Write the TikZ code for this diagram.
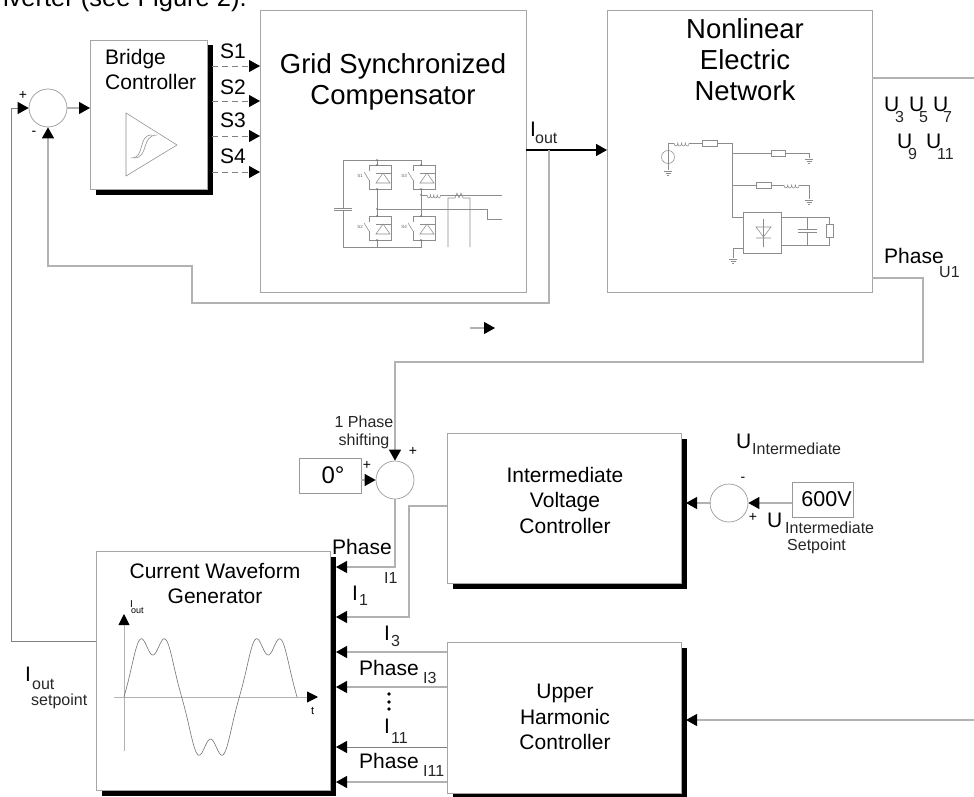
\documentclass[tikz,border=0pt]{standalone}
\usepackage{fontspec}
\setmainfont{Liberation Sans}
\usetikzlibrary{arrows.meta,shadows}
\tikzset{coilDecorate/.pic={
  \draw[circuitDecorate] (0,0) .. controls (0,4) and (4,4) .. (4,0)
    .. controls (4,4) and (8,4) .. (8,0)
    .. controls (8,4) and (12,4) .. (12,0)
    .. controls (12,4) and (16,4) .. (16,0);
}}
\tikzset{groundDecorate/.pic={
  \draw[circuitDecorate] (-4,0) -- (4,0) (-2.5,2) -- (2.5,2) (-1,4) -- (1,4);
}}
\begin{document}
\begin{tikzpicture}
[x=1pt,y=-1pt,
  boxDecorate/.style={shape=rectangle,anchor=north west,inner sep=0pt,draw=black!35,line width=1pt,fill=white},
  shadowDecorate/.style={boxDecorate,general shadow={fill=black,shadow xshift=5pt,shadow yshift=-5pt}},
  sumDecorate/.style={shape=circle,minimum size=38pt,inner sep=0pt,draw=black!40,line width=.7pt},
  valueDecorate/.style={shape=rectangle,inner sep=0pt,draw=black!40,line width=.8pt},
  wireDecorate/.style={draw=black!30,line width=1.2pt},
  thinDecorate/.style={draw=black!50,line width=.8pt},
  arrowDecorate/.style={-{Triangle[length=11pt,width=12pt,color=black,fill=black]}},
  circuitDecorate/.style={draw=black!45,line width=.55pt},
  bigText/.style={anchor=base west,inner sep=0pt,font=\fontsize{21}{25}\selectfont},
  subText/.style={anchor=base west,inner sep=0pt,font=\fontsize{16}{19}\selectfont,text=black!85},
  titleText/.style={align=center,inner sep=0pt,font=\fontsize{21}{25}\selectfont},
  headText/.style={align=center,inner sep=0pt,font=\fontsize{27.5}{31}\selectfont}]
\path[use as bounding box,clip] (0,0) rectangle (974,797);
\node[anchor=base east,inner sep=0pt,font=\fontsize{25.5}{30}\selectfont] (caption) at (247,7) {inverter (see Figure 2).};
%% blocks
\foreach \nodename/\x/\y/\w/\h in {
  bridge/90/40/117/149,
  voltage/447/433/234/150,
  waveform/96/551/234/239,
  harmonic/447/642/234/151}
{
  \node[shadowDecorate,minimum width=\w pt,minimum height=\h pt] (\nodename) at (\x,\y) {};
}
\foreach \nodename/\x/\y/\w/\h in {
  compensator/260/10/266/282,
  network/607/10/265/282}
{
  \node[boxDecorate,minimum width=\w pt,minimum height=\h pt] (\nodename) at (\x,\y) {};
}
%% sums and set values
\foreach \nodename/\x/\y in {sumCurrent/48/108, sumPhase/395/480, sumVoltage/729/503}
{
  \node[sumDecorate] (\nodename) at (\x,\y) {};
}
\node[valueDecorate,minimum width=62pt,minimum height=35pt,font=\fontsize{24}{28}\selectfont] (zeroDegree) at (330,475.5) {\hspace*{6pt}0°};
\node[valueDecorate,minimum width=61pt,minimum height=35pt,font=\fontsize{21.5}{25}\selectfont] (setVoltage) at (822.5,499.5) {\hspace*{8pt}600V};
%% free ends and ports
\foreach \nodename/\x/\y in {
  s1a/212/66, s1b/260/66, s2a/212/101, s2b/260/101, s3a/212/136, s3b/260/136, s4a/212/172, s4b/260/172,
  outA/526/150, outB/607/150, outC/549/150, fbA/549/303, fbB/192/303, fbC/192/266, fbD/48/266,
  spA/96/641, spB/11/641, spC/11/108,
  topA/872/78, topB/974/78,
  upA/872/278, upB/923/278, upC/923/362, upD/395/362,
  strayA/470/328, strayB/495/328,
  ph1A/395/567, ph1B/336/567, i1A/447/506, i1B/409/506, i1C/409/617, i1D/336/617,
  i3A/447/652, i3B/336/652, ph3A/447/687, ph3B/336/687,
  i11A/447/747, i11B/336/747, ph11A/447/782, ph11B/336/782,
  hrmA/974/720, hrmB/686/720, sumOut/711/503, setIn/686/503, zeroOut/361/480, setOut/792/503}
{
  \coordinate (\nodename) at (\x,\y);
}
%% connectors
\path
\foreach \startnode/\endnode in {s1a/s1b, s2a/s2b, s3a/s3b, s4a/s4b}
{
  (\startnode) edge[thinDecorate,arrowDecorate,dash pattern=on 6pt off 4pt] (\endnode)
}
\foreach \startnode/\endnode in {
  sumCurrent.east/bridge.west|-sumCurrent.east, zeroOut/sumPhase.west, setOut/sumVoltage.east,
  sumOut/setIn, strayA/strayB, i3A/i3B, ph3A/ph3B, ph11A/ph11B, hrmA/hrmB}
{
  (\startnode) edge[wireDecorate,arrowDecorate] (\endnode)
}
\foreach \startnode/\endnode in {i11A/i11B}
{
  (\startnode) edge[thinDecorate,arrowDecorate] (\endnode)
};
\draw[draw=black,line width=1.6pt,arrowDecorate] (outA) -- (outB);
\draw[wireDecorate,arrowDecorate] (outC) -- (fbA) -- (fbB) -- (fbC) -- (fbD) -- (sumCurrent.south);
\draw[thinDecorate,arrowDecorate] (spA) -- (spB) -- (spC) -- (sumCurrent.west);
\draw[wireDecorate] (topA) -- (topB);
\draw[wireDecorate,arrowDecorate] (upA) -- (upB) -- (upC) -- (upD) -- (sumPhase.north);
\draw[wireDecorate,arrowDecorate] (sumPhase.south) -- (ph1A) -- (ph1B);
\draw[wireDecorate,arrowDecorate] (i1A) -- (i1B) -- (i1C) -- (i1D);
%% amplifier in the bridge controller
\draw[circuitDecorate] (126,113) -- (177,145) -- (126,176) -- cycle;
\draw[circuitDecorate] (131,158) .. controls (146,158) and (137,135) .. (152,135);
\draw[circuitDecorate] (134,158) .. controls (149,158) and (141,135) .. (157,135);
%% inverter bridge
\draw[circuitDecorate] (377,160) -- (343,160) -- (343,208) (343,210) -- (343,247) -- (421,247) -- (421,160) -- (377,160) -- (377,247);
\draw[circuitDecorate] (334,208) -- (352,208) (334,210) -- (352,210);
\foreach \nodename/\x/\y in {S1/377/165, S3/421/165, S2/377/216, S4/421/216}
{
  \draw[circuitDecorate,fill=white] (\x-8,\y) rectangle (\x+14,\y+24);
  \draw[circuitDecorate,fill=white] (\x+6,\y+8) -- (\x-1,\y+18) -- (\x+13,\y+18) -- cycle;
  \draw[circuitDecorate] (\x-1,\y+8) -- (\x+14,\y+8);
  \draw[circuitDecorate,fill=white,draw=white] (\x-10,\y+6) rectangle (\x-7,\y+14);
  \draw[circuitDecorate] (\x-8,\y+15) -- (\x-13,\y+7);
  \node[inner sep=0pt,text=black!60,font=\fontsize{4.5}{5}\selectfont] (label\nodename) at (\x-17,\y+11) {\nodename};
}
\foreach \x/\y in {377/160, 377/165, 377/189, 377/209, 377/216, 377/240, 421/165, 421/189, 421/195, 421/216, 421/240}
{
  \fill[black!60] (\x,\y) circle (.8);
}
\draw[circuitDecorate] (377,209) -- (487,209) -- (487,219) -- (502,219);
\draw[circuitDecorate] (421,195) -- (427,195) (441,195) -- (502,195);
\pic at (427,195) [xscale=.85] {coilDecorate};
\draw[circuitDecorate] (448,247) -- (448,198) -- (455,198) -- (457,193) -- (459,198) -- (461,193) -- (463,198) -- (470,198) -- (470,247);
%% network
\draw[circuitDecorate] (668,151) -- (668,143) -- (674,143) (689,143) -- (702,143) (717,143) -- (732,143) -- (732,217) -- (743,217);
\draw[circuitDecorate] (668,157) circle (6.5);
\draw[circuitDecorate] (668,151) -- (668,170);
\pic at (668,171) {groundDecorate};
\pic at (674,143) [xscale=.95] {coilDecorate};
\foreach \x/\y/\w/\h in {702/140/15/6, 771/150/14/6, 756/182/15/6, 826/224/7/13}
{
  \draw[circuitDecorate,fill=white] (\x,\y) rectangle (\x+\w,\y+\h);
}
\draw[circuitDecorate] (732,153) -- (771,153) (785,153) -- (809,153) -- (809,158);
\pic at (809,159) {groundDecorate};
\draw[circuitDecorate] (732,185) -- (756,185) (771,185) -- (784,185) (799,185) -- (809,185) -- (809,199);
\pic at (809,200) {groundDecorate};
\pic at (784,185) [xscale=.95] {coilDecorate};
\draw[circuitDecorate,line width=.8pt] (743,212) rectangle (781,253);
\draw[circuitDecorate] (756,227) -- (771,227) -- (763.5,237) -- cycle (763.5,219) -- (763.5,247) (756,238) -- (771,238);
\draw[circuitDecorate] (781,217) -- (829,217) -- (829,224) (829,237) -- (829,245) -- (781,245);
\draw[circuitDecorate] (807,217) -- (807,229) (807,232) -- (807,245) (798,229) -- (817,229) (798,232) -- (817,232);
\draw[circuitDecorate] (743,248) -- (733,248) -- (733,258);
\pic at (733,259) {groundDecorate};
%% waveform sketch
\draw[wireDecorate,line width=.9pt,-{Triangle[length=11pt,width=11pt,color=black,fill=black]}] (124,751) -- (124,614);
\draw[wireDecorate,line width=.9pt,-{Triangle[length=11pt,width=11pt,color=black,fill=black]}] (114,697) -- (318,697);
\draw[draw=black!55,line width=.6pt] plot[domain=0:540,samples=181] ({124+.3204*\x},{697-60*(sin(\x)+.2*sin(3*\x)-.1*sin(5*\x))});
\node[anchor=base west,inner sep=0pt,font=\fontsize{10}{12}\selectfont] (axisI) at (130,607) {I};
\node[anchor=base west,inner sep=0pt,font=\fontsize{9}{11}\selectfont] (axisOut) at (131,613) {out};
\node[anchor=base west,inner sep=0pt,font=\fontsize{11}{13}\selectfont] (axisT) at (311,714) {t};
%% block titles
\node[titleText,align=left,anchor=west] (bridgeTitle) at (105,69) {Bridge\\Controller};
\node[headText] (compensatorTitle) at (393,82) {Grid Synchronized\\Compensator};
\node[headText] (networkTitle) at (745,60) {Nonlinear\\Electric\\Network};
\node[titleText,font=\fontsize{21}{25.5}\selectfont] (voltageTitle) at (565,500) {Intermediate\\Voltage\\Controller};
\node[titleText,font=\fontsize{21}{25.5}\selectfont] (harmonicTitle) at (565,717) {Upper\\Harmonic\\Controller};
\node[titleText] (waveformTitle) at (215,583) {Current Waveform\\Generator};
\node[align=center,inner sep=0pt,font=\fontsize{16}{18}\selectfont,text=black!85] (shiftText) at (364,432) {1 Phase\\shifting};
%% labels
\foreach \nodename/\x/\y/\labeltext in {
  textS1/220/59/S1, textS2/220/95/S2, textS3/220/128/S3, textS4/220/163/S4,
  textIout/530/137/I, textU3/884/112/U, textU5/909/112/U, textU7/933/112/U, textU9/897/149/U, textU11/926/149/U,
  textPhaseU/884/263/Phase, textUin/736/448/U, textUset/767/527/U,
  textPhase1/332/554/Phase, textI1/352/600/I, textI3/384/640/I, textPhase3/359/675/Phase,
  textI11/384/733/I, textPhase11/359/768/Phase, textIset/25/681/I}
{
  \node[bigText] (\nodename) at (\x,\y) {\labeltext};
}
\foreach \nodename/\x/\y/\labeltext in {
  subIout/535/143/out, subU3/895/123/3, subU5/919/123/5, subU7/943/123/7, subU9/908/160/9, subU11/937/160/11,
  subPhaseU/939/277/U1, subUin/752/454/Intermediate, subUset/785/533/Intermediate, subSetpoint/787/550/Setpoint,
  subPhase1/384/583/I1, subI1/359/605/1, subI3/391/646/3, subPhase3/423/683/I3,
  subI11/391/743/11, subPhase11/423/776/I11, subIset/32/689/out, subSetIset/31/705/setpoint}
{
  \node[subText] (\nodename) at (\x,\y) {\labeltext};
}
%% signs
\foreach \nodename/\x/\y/\labeltext in {
  plusA/23/95/+, minusA/34/133/-, plusB/367/465/+, plusC/413/451/+, minusC/743/479/-, plusD/753/517/+}
{
  \node[inner sep=0pt,font=\fontsize{14}{16}\selectfont] (\nodename) at (\x,\y) {\labeltext};
}
\foreach \nodename/\y in {dotA/694, dotB/702, dotC/709}
{
  \node[shape=circle,fill=black,inner sep=0pt,minimum size=3.6pt] (\nodename) at (389,\y) {};
}
\end{tikzpicture}
\end{document}
